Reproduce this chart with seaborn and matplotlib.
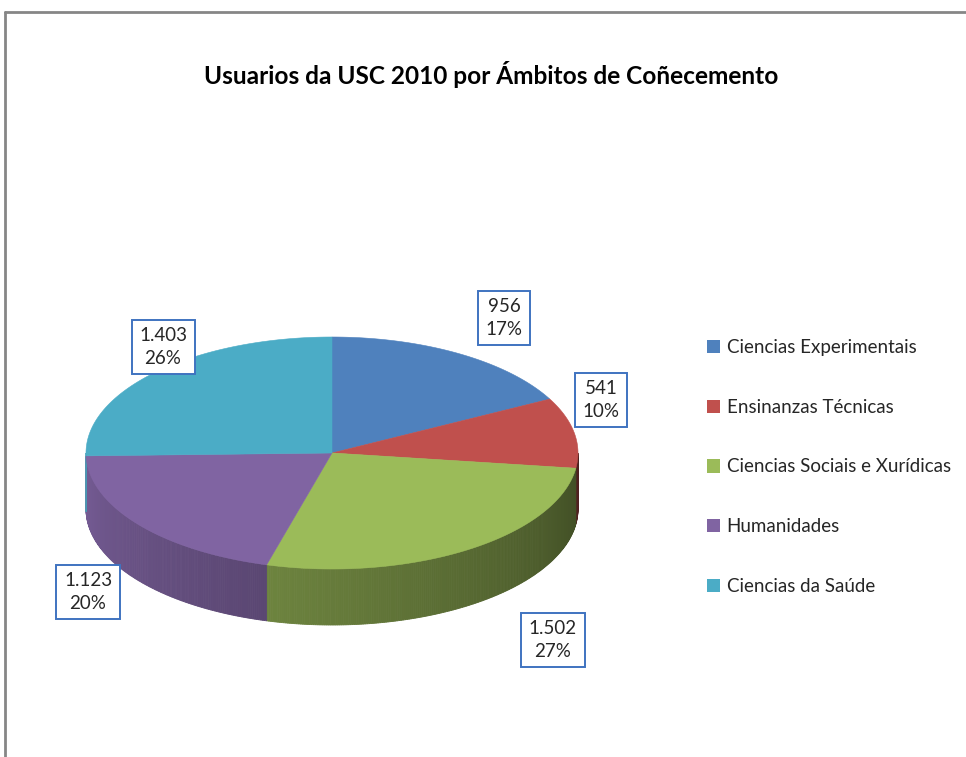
import numpy as np
import matplotlib.pyplot as plt
import seaborn as sns
from matplotlib.patches import Patch

# data
categories = ["Ciencias Experimentais", "Ensinanzas Técnicas",
              "Ciencias Sociais e Xurídicas", "Humanidades", "Ciencias da Saúde"]
users = [956, 541, 1502, 1123, 1403]
pct_labels = ["17%", "10%", "27%", "20%", "26%"]
colors = ["#4F81BD", "#C0504D", "#9BBB59", "#8064A2", "#4BACC6"]

sns.set_style("white")
plt.rcParams["font.family"] = ["Lato", "DejaVu Sans"]
palette = sns.color_palette(colors)

W, H = 966, 757
fig = plt.figure(figsize=(W / 100, H / 100), dpi=100)
ax = fig.add_axes([0, 0, 1, 1])
ax.set_xlim(0, W)
ax.set_ylim(H, 0)
ax.axis("off")

# frame of the chart area
ax.plot([5, W], [12, 12], color="#868686", lw=2)
ax.plot([5, 5], [12, H], color="#868686", lw=2)

ax.text(491, 75, "Usuarios da USC 2010 por Ámbitos de Coñecemento",
        ha="center", va="center", fontsize=17.6, fontweight="bold", color="black")

# 3d pie geometry (pixel units), first slice starts at 12 o'clock, clockwise
cx, cy, rx, ry, depth = 332, 453, 246, 116, 56
vals = np.array(users, dtype=float)
bounds = np.concatenate([[0], np.cumsum(vals / vals.sum())]) * 360


def ell(theta):
    t = np.radians(theta)
    return cx + rx * np.sin(t), cy - ry * np.cos(t)


def shade(theta):
    return 0.40 + (theta - 90) / 180 * 0.52


# side walls (front half only)
for i, col in enumerate(palette):
    lo, hi = max(bounds[i], 90), min(bounds[i + 1], 270)
    if lo >= hi:
        continue
    ts = np.linspace(lo, hi, max(int((hi - lo) * 2), 2))
    for t0, t1 in zip(ts[:-1], ts[1:]):
        x0, y0 = ell(t0)
        x1, y1 = ell(t1)
        f = shade((t0 + t1) / 2)
        c = tuple(np.clip(np.array(col) * f, 0, 1))
        ax.fill([x0, x1, x1, x0], [y0, y1, y1 + depth, y0 + depth],
                color=c, lw=0.6, ec=c)

# top face
for i, col in enumerate(palette):
    ts = np.linspace(bounds[i], bounds[i + 1], 200)
    xs, ys = ell(ts)
    ax.fill(np.r_[cx, xs], np.r_[cy, ys], color=col, lw=0.4, ec=col)

# data labels
label_xy = [(504, 318), (601, 400), (553, 640), (88, 592), (163, 347)]
for (x, y), v, p in zip(label_xy, users, pct_labels):
    txt = f"{v:,}".replace(",", ".") + "\n" + p
    ax.text(x, y, txt, ha="center", va="center", fontsize=13.5,
            linespacing=1.4,
            bbox=dict(boxstyle="square,pad=0.4", fc="white",
                      ec="#3F73C0", lw=1.4))

handles = [Patch(facecolor=c, edgecolor="none", label=l)
           for c, l in zip(palette, categories)]
ax.legend(handles=handles, loc="upper left", bbox_to_anchor=(707, 339),
          bbox_transform=ax.transData, frameon=False, fontsize=13.5,
          handlelength=0.7, handleheight=0.7, handletextpad=0.35,
          labelspacing=2.28, borderpad=0, borderaxespad=0)

fig.savefig("out.png", dpi=100, facecolor="white")
